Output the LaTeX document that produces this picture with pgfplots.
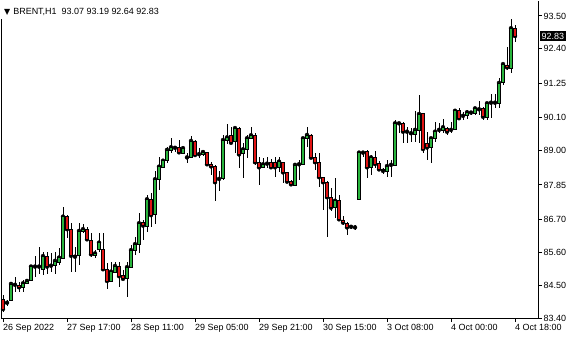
\documentclass[border=0pt]{standalone}
\usepackage{fontspec}
\setmainfont{Liberation Sans}
\newfontfamily\dejavu{DejaVu Sans}
\usepackage{pgfplots}
\usepackage{pgfplotstable}
\pgfplotsset{compat=1.18}
\definecolor{bull}{RGB}{40,180,60}
\definecolor{bear}{RGB}{225,20,20}

\pgfplotstableread{
i o h l c
0 84.03 84.17 83.60 83.70
1 83.89 84.00 83.80 83.91
2 84.00 84.56 83.98 84.54
3 84.51 84.78 84.28 84.51
4 84.50 84.61 84.28 84.43
5 84.43 84.67 84.28 84.56
6 84.56 84.70 84.54 84.64
7 84.65 85.14 84.64 85.12
8 85.12 85.47 84.78 85.12
9 85.12 85.78 84.87 85.12
10 85.03 85.62 84.84 85.47
11 85.47 85.62 84.87 85.12
12 85.15 85.56 84.95 85.15
13 85.15 85.62 84.87 85.31
14 85.25 85.73 85.17 85.42
15 85.40 87.10 85.40 86.79
16 86.79 86.84 86.07 86.37
17 86.37 86.57 84.95 85.48
18 85.51 85.78 84.95 85.45
19 85.48 86.57 85.17 86.31
20 86.29 86.54 86.23 86.37
21 86.37 86.44 85.98 86.03
22 85.98 86.23 85.45 85.53
23 85.48 85.67 85.40 85.56
24 85.70 86.23 85.62 85.92
25 85.70 86.23 85.03 85.03
26 85.03 85.23 84.36 84.64
27 84.64 85.28 84.61 84.95
28 84.91 85.27 84.90 85.14
29 85.14 85.28 84.45 84.80
30 84.83 85.00 84.67 84.71
31 84.74 85.28 84.09 85.10
32 85.10 85.84 85.06 85.67
33 85.67 86.12 85.51 85.87
34 85.87 86.92 85.58 86.57
35 86.60 86.68 86.01 86.49
36 86.45 87.51 86.29 87.37
37 87.37 87.57 86.43 86.84
38 86.87 88.33 86.54 88.04
39 88.04 88.79 87.68 88.46
40 88.44 88.68 88.41 88.66
41 88.66 89.11 88.57 89.02
42 89.00 89.41 88.91 89.11
43 89.09 89.15 88.96 89.09
44 89.11 89.35 88.94 88.94
45 88.91 89.13 88.91 89.08
46 88.77 88.93 88.59 88.77
47 88.77 89.50 88.74 89.32
48 89.32 89.35 88.82 88.85
49 88.88 89.08 88.76 88.88
50 88.86 89.02 88.82 88.95
51 88.94 88.96 88.52 88.54
52 88.55 88.63 88.18 88.47
53 88.47 88.52 87.32 87.94
54 88.05 88.33 87.66 88.05
55 88.07 89.52 88.02 89.35
56 89.33 89.89 89.22 89.44
57 89.49 89.78 89.21 89.26
58 89.30 89.80 88.91 89.75
59 89.75 89.80 88.40 88.87
60 88.91 89.24 88.07 89.04
61 89.04 89.52 88.74 89.41
62 89.41 89.78 89.38 89.51
63 89.51 89.58 88.52 88.61
64 88.61 88.79 87.85 88.44
65 88.44 88.74 88.41 88.54
66 88.56 88.77 88.43 88.56
67 88.61 88.71 88.44 88.44
68 88.61 88.77 88.13 88.44
69 88.44 88.77 88.29 88.63
70 88.61 88.63 87.92 88.27
71 88.27 88.29 87.92 87.96
72 87.98 88.02 87.84 87.87
73 87.84 88.57 87.84 88.52
74 88.54 88.68 88.02 88.54
75 88.54 89.41 88.52 89.41
76 89.41 89.80 89.13 89.52
77 89.52 89.55 88.74 88.76
78 88.76 88.91 88.35 88.61
79 88.61 88.91 87.77 88.11
80 88.11 88.13 87.01 87.94
81 87.94 87.99 86.12 87.44
82 87.44 87.74 86.99 87.09
83 87.09 88.07 86.73 87.32
84 87.32 87.51 86.68 86.70
85 86.68 86.81 86.51 86.59
86 86.57 86.62 86.18 86.43
87 86.45 86.51 86.37 86.45
88 86.43 86.50 86.34 86.43
89 87.37 88.96 87.37 88.93
90 88.93 89.00 88.79 88.93
91 88.98 89.02 88.08 88.44
92 88.44 88.85 88.18 88.77
93 88.77 88.99 88.40 88.55
94 88.57 88.65 88.35 88.37
95 88.38 88.40 88.22 88.32
96 88.29 88.68 88.13 88.48
97 88.52 88.68 88.13 88.52
98 88.52 90.02 88.48 89.91
99 89.91 89.96 89.58 89.91
100 89.91 89.96 89.24 89.63
101 89.63 89.80 89.24 89.63
102 89.58 89.74 89.30 89.58
103 89.54 90.32 89.30 89.69
104 89.69 90.86 89.24 90.22
105 90.25 90.25 88.93 89.05
106 89.24 89.63 88.68 89.10
107 89.10 89.41 88.59 89.41
108 89.39 89.97 89.30 89.63
109 89.69 89.93 89.58 89.69
110 89.66 90.05 89.58 89.78
111 89.74 89.80 89.52 89.63
112 89.69 89.96 89.60 89.69
113 89.71 90.36 89.69 90.33
114 90.33 90.41 90.08 90.08
115 90.16 90.28 90.02 90.16
116 90.16 90.36 90.05 90.28
117 90.27 90.30 90.20 90.27
118 90.25 90.45 90.19 90.41
119 90.38 90.66 90.19 90.38
120 90.41 90.47 90.02 90.13
121 90.12 90.63 90.02 90.58
122 90.60 90.89 90.08 90.60
123 90.60 90.89 90.41 90.60
124 90.59 91.42 90.42 91.26
125 91.27 91.94 91.19 91.89
126 91.86 92.47 91.69 91.78
127 91.75 93.39 91.58 93.09
128 93.07 93.19 92.64 92.83
}\candles

\begin{document}
\begin{tikzpicture}
\begin{axis}[name=main, at={(0,0)}, anchor=south west,
  scale only axis, width=537bp, height=317bp,
  xmin=-0.5, xmax=133.75, ymin=83.40, ymax=94.00,
  axis x line*=bottom, axis y line*=right,
  axis line style={black, line width=1bp},
  tick align=outside, major tick length=4bp,
  tick style={black, line width=1bp},
  xtick={0,16,32,48,64,80,96,112,128},
  xticklabels={26 Sep 2022,27 Sep 17:00,28 Sep 11:00,29 Sep 05:00,29 Sep 21:00,30 Sep 15:00,3 Oct 08:00,4 Oct 00:00,4 Oct 18:00},
  ytick={83.40,84.50,85.60,86.70,87.85,89.00,90.10,91.25,92.40,93.50},
  yticklabels={83.40,84.50,85.60,86.70,87.85,89.00,90.10,91.25,92.40,93.50},
  ticklabel style={font=\fontsize{9}{10}\selectfont},
  xticklabel style={anchor=north west, inner xsep=0pt, inner ysep=2bp},
  yticklabel style={anchor=west, inner xsep=1.5bp},
  /pgf/number format/assume math mode=true,
]
\addplot[black, only marks, mark=none,
  error bars/.cd, y dir=both, y explicit, error mark=none,
  error bar style={black, line width=1bp}]
  table[x=i, y=c, y error plus expr=\thisrow{h}-\thisrow{c}, y error minus expr=\thisrow{c}-\thisrow{l}] {\candles};
\end{axis}
\begin{axis}[at={(0,0)}, anchor=south west,
  scale only axis, width=537bp, height=317bp,
  xmin=-0.5, xmax=133.75, ymin=83.40, ymax=94.00,
  hide axis, ybar stacked, bar width=2.4bp]
\addplot[draw=none, fill=none] table[x=i, y expr={min(\thisrow{o},\thisrow{c})}] {\candles};
\addplot[draw=black, line width=0.75bp, fill=bull] table[x=i, y expr={max(\thisrow{c}-\thisrow{o},0)}] {\candles};
\addplot[draw=black, line width=0.75bp, fill=bear] table[x=i, y expr={max(\thisrow{o}-\thisrow{c},0)}] {\candles};
\end{axis}
\draw[black, line width=1bp] (main.south west) -- ([shift={(0,299bp)}]main.south west);
\node[anchor=west, inner sep=0pt, font=\fontsize{9}{10}\selectfont] at ([shift={(3bp,306bp)}]main.south west)
  {{\dejavu\fontsize{8}{8}\selectfont ▼}\hspace{3bp}BRENT,H1\ \ 93.07 93.19 92.64 92.83};
\node[anchor=west, fill=black, text=white, inner xsep=1.5bp, inner ysep=1.5bp, font=\fontsize{9}{10}\selectfont]
  at ([shift={(539bp,282bp)}]main.south west) {92.83};
\pgfresetboundingbox
\path[use as bounding box] ([shift={(-1bp,-22bp)}]main.south west) rectangle ([shift={(579bp,318bp)}]main.south west);
\end{tikzpicture}
\end{document}
